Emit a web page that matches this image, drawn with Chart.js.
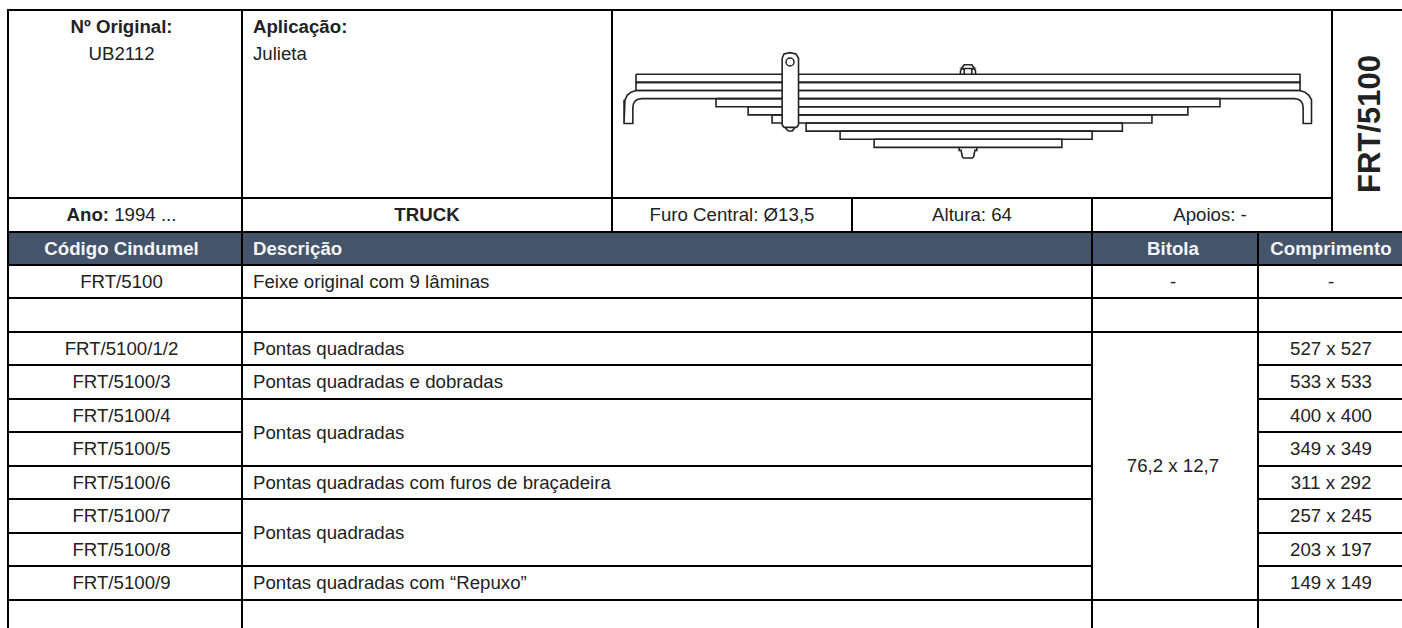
<!DOCTYPE html>
<html lang="pt">
<head>
<meta charset="utf-8">
<title>FRT/5100</title>
<script src="https://cdn.jsdelivr.net/npm/chart.js@4"></script>
<style>
  html, body { margin: 0; padding: 0; width: 1402px; height: 628px; overflow: hidden; background: #fff; }
  body { font-family: "Liberation Sans", Arial, sans-serif; font-size: 18.67px; color: #222; }
  table { position: absolute; left: 7px; top: 9px; width: 1395px; border-collapse: collapse; table-layout: fixed; }
  td { border: 2px solid #000; padding: 0 10px; overflow: hidden; white-space: nowrap; text-align: left; vertical-align: middle; box-sizing: border-box; }
  td.c { text-align: center; }
  td.code { text-align: center; padding: 0 17px 0 10px; }
  td.bit { text-align: center; padding: 0 14px 0 10px; }
  td.end { border-right: 0; text-align: center; }
  td.top { vertical-align: top; line-height: 27px; padding-top: 2px; }
  tr.head td { background: #44546a; color: #f4f5f7; font-weight: bold; }
  #plate { position: absolute; left: 613px; top: 11px; width: 718px; height: 186px; }
  #side { position: absolute; left: 1270px; top: 104px; width: 200px; height: 40px; line-height: 40px; text-align: center;
          font-size: 31px; font-weight: bold; transform: rotate(-90deg); }
</style>
</head>
<body>
<table id="sheet">
  <colgroup>
    <col style="width:234px"><col style="width:370px"><col style="width:240px"><col style="width:240px">
    <col style="width:166px"><col style="width:74px"><col style="width:71px">
  </colgroup>
  <tbody id="rows"></tbody>
</table>
<div id="plate"><canvas id="spring" width="718" height="186"></canvas></div>
<div id="side">FRT/5100</div>

<script>
'use strict';

// ─── Table content ────────────────────────────────────────────────────────────

const CODES   = ['FRT/5100', '', 'FRT/5100/1/2', 'FRT/5100/3', 'FRT/5100/4', 'FRT/5100/5',
                 'FRT/5100/6', 'FRT/5100/7', 'FRT/5100/8', 'FRT/5100/9', ''];
// null = merged with the row above
const DESCS   = ['Feixe original com 9 lâminas', '', 'Pontas quadradas', 'Pontas quadradas e dobradas',
                 'Pontas quadradas', null, 'Pontas quadradas com furos de braçadeira',
                 'Pontas quadradas', null, 'Pontas quadradas com “Repuxo”', ''];
const DESC_SPANS = [1, 1, 1, 1, 2, 0, 1, 2, 0, 1, 1];
const BITOLAS = ['-', '', '76,2 x 12,7', null, null, null, null, null, null, null, ''];
const BITOLA_SPANS = [1, 1, 8, 0, 0, 0, 0, 0, 0, 0, 1];
const LENGTHS = ['-', '', '527 x 527', '533 x 533', '400 x 400', '349 x 349',
                 '311 x 292', '257 x 245', '203 x 197', '149 x 149', ''];
const ROW_HEIGHTS = [33, 33, 34, 33, 34, 33, 34, 33, 34, 33, 34, 40];

// ─── Spring drawing, everything in mm from the centre bolt ────────────────────

const LEAF_THICK = 12.7;
const LEAF_LEFT  = [527, 527, 0, 400, 349, 311, 257, 203, 149];
const LEAF_RIGHT = [527, 527, 0, 400, 349, 292, 245, 197, 149];

// third leaf has the hooked ends, outline of the left one from top to inner side
const HOOK_X = [-527, -535, -541, -544.5, -546, -546, -532, -532, -531, -528, -524, -518];
const HOOK_Y = [-25.4, -28, -33, -40, -48, -77, -77, -52, -46, -41.5, -39, -38.1];

const SHACKLE_X = [-295, -295, -292, -282.5, -273, -269, -269, -272, -292, -295, -295];
const SHACKLE_Y = [-79, 25, 31.8, 33.8, 31.8, 25, -79, -83, -83, -79, 25];
const HOLE_X = [-282.5];
const HOLE_Y = [19.2];
const NUB_X  = [-289, -289, -285, -279, -276, -276];
const NUB_Y  = [-83, -85, -88.7, -88.7, -85, -83];

const NUT_X  = [-12, -12, -9, -6, 6, 9, 12, 12];
const NUT_Y  = [0, 5, 11, 15, 15, 11, 5, 0];
const NUT_INNER_X = [-6, -6, -9, 9, 6, 6];
const NUT_INNER_Y = [0, 7.5, 9, 9, 7.5, 0];
const BOLT_X = [-14, -14, -11, -9, -7, 7, 9, 11, 14, 14];
const BOLT_Y = [-114.3, -119, -119, -129, -131, -131, -129, -119, -119, -114.3];

const INK = '#222';

// ─── Table ────────────────────────────────────────────────────────────────────

function cell(tr, text, cls, colspan, rowspan) {
  const td = document.createElement('td');
  if (cls) td.className = cls;
  if (colspan > 1) td.colSpan = colspan;
  if (rowspan > 1) td.rowSpan = rowspan;
  td.innerHTML = text;
  tr.appendChild(td);
  return td;
}

function addRow(height, cls) {
  const tr = document.createElement('tr');
  tr.style.height = height + 'px';
  if (cls) tr.className = cls;
  document.getElementById('rows').appendChild(tr);
  return tr;
}

function buildTable() {
  const top = addRow(188);
  cell(top, '<b>Nº Original:</b><br>UB2112', 'code top');
  cell(top, '<b>Aplicação:</b><br>Julieta', 'top');
  cell(top, '', '', 4);
  cell(top, '', 'end', 1, 2);

  const info = addRow(34);
  cell(info, '<b>Ano:</b> 1994 ...', 'code');
  cell(info, '<b>TRUCK</b>', 'c');
  cell(info, 'Furo Central: Ø13,5', 'c');
  cell(info, 'Altura: 64', 'c');
  cell(info, 'Apoios: -', 'bit', 2);

  const head = addRow(ROW_HEIGHTS[0], 'head');
  cell(head, 'Código Cindumel', 'code');
  cell(head, 'Descrição', '', 3);
  cell(head, 'Bitola', 'bit');
  cell(head, 'Comprimento', 'end', 2);

  CODES.forEach((code, i) => {
    const tr = addRow(ROW_HEIGHTS[i + 1]);
    cell(tr, code, 'code');
    if (DESCS[i] !== null) cell(tr, DESCS[i], '', 3, DESC_SPANS[i]);
    if (BITOLAS[i] !== null) cell(tr, BITOLAS[i], 'bit', 1, BITOLA_SPANS[i]);
    cell(tr, LENGTHS[i], 'end', 2);
  });
}

// ─── Chart ────────────────────────────────────────────────────────────────────

const toPoints = (xs, ys) => xs.map((x, i) => ({ x, y: ys[i] }));

function outline(points, extra) {
  return {
    data: points,
    showLine: true,
    borderColor: INK,
    borderWidth: 1.6,
    pointRadius: 0,
    tension: 0,
    ...extra,
  };
}

function leafPoints(i) {
  const top = -i * LEAF_THICK;
  const bot = -(i + 1) * LEAF_THICK;
  return toPoints(
    [-LEAF_LEFT[i], LEAF_RIGHT[i], LEAF_RIGHT[i], -LEAF_LEFT[i], -LEAF_LEFT[i]],
    [top, top, bot, bot, top],
  );
}

function hookedLeafPoints() {
  const left = toPoints(HOOK_X, HOOK_Y);
  const right = left.map(p => ({ x: -p.x, y: p.y })).reverse();
  return [...left, ...right, left[0]];
}

function initChart() {
  const leaves = LEAF_LEFT
    .map((len, i) => (len ? outline(leafPoints(i)) : null))
    .filter(Boolean);

  // first dataset ends up on top
  const datasets = [
    {
      data: toPoints(HOLE_X, HOLE_Y),
      pointRadius: 4,
      pointBackgroundColor: '#fff',
      pointBorderColor: INK,
      pointBorderWidth: 1.5,
    },
    outline(toPoints(SHACKLE_X, SHACKLE_Y), { fill: 'shape', backgroundColor: '#fff' }),
    outline(toPoints(NUB_X, NUB_Y)),
    outline(toPoints(NUT_INNER_X, NUT_INNER_Y)),
    outline(toPoints(NUT_X, NUT_Y)),
    outline(toPoints(BOLT_X, BOLT_Y)),
    outline(hookedLeafPoints()),
    ...leaves,
  ];

  return new Chart(document.getElementById('spring').getContext('2d'), {
    type: 'scatter',
    data: { datasets },
    options: {
      animation: false,
      responsive: false,
      layout: { padding: 0, autoPadding: false },
      plugins: { legend: { display: false }, tooltip: { enabled: false } },
      scales: {
        x: { type: 'linear', display: false, min: -563.5, max: 576.2 },
        y: { type: 'linear', display: false, min: -192, max: 99 },
      },
    },
  });
}

buildTable();
initChart();
</script>
</body>
</html>
